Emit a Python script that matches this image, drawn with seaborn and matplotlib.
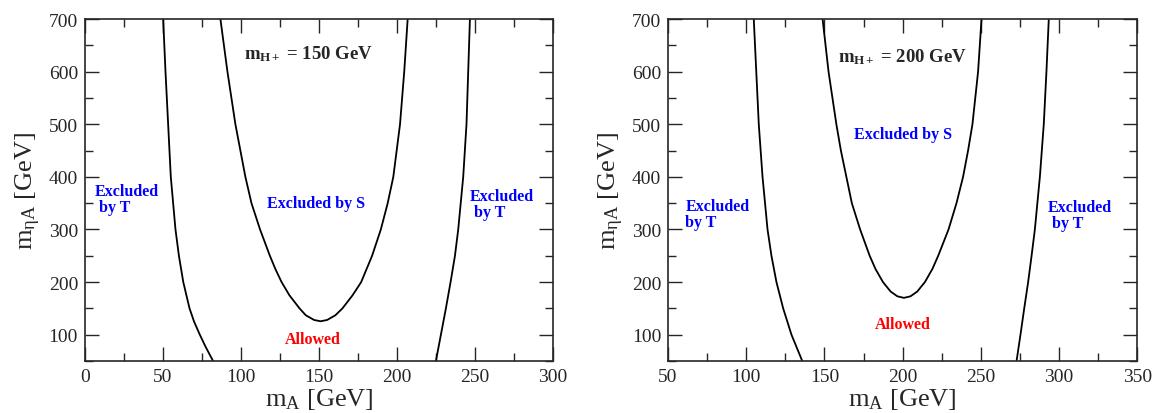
import numpy as np
import pandas as pd
import matplotlib
matplotlib.use("Agg")
import matplotlib.pyplot as plt
import seaborn as sns
from matplotlib.ticker import MultipleLocator

# values (m_A, m_etaA in GeV)
# left panel: m_H+ = 150 GeV
t_left_150_x = [50.1, 51.6, 53.3, 55.0, 58.0, 60.2, 63.0, 67.0, 69.9, 73.6, 77.3, 82.1]
t_left_150_y = [700, 600, 500, 400, 300, 250, 200, 150, 125, 100, 77, 50]
t_right_150_x = [246.7, 245.6, 244.5, 242.4, 239.2, 237.1, 234.3, 231.3, 228.1, 224.9]
t_right_150_y = [700, 600, 500, 400, 300, 250, 200, 150, 100, 50]
s_150_x = [86.8, 91.3, 96.4, 102.8, 106.7, 112.2, 118.5, 122.0, 126.0, 131.0, 137.5,
           141.5, 146.8, 151.0, 155.2, 160.5, 165.0, 171.5, 177.0, 180.5, 184.0,
           189.6, 194.0, 197.6, 201.9, 204.6, 206.8]
s_150_y = [700, 600, 500, 400, 350, 300, 250, 225, 200, 175, 150,
           137, 128, 125.5, 128, 137, 150, 175, 200, 225, 250,
           300, 350, 400, 500, 600, 700]

# right panel: m_H+ = 200 GeV
t_left_200_x = [104.8, 106.4, 108.0, 110.4, 113.6, 116.1, 119.3, 123.6, 128.9, 135.8]
t_left_200_y = [700, 600, 500, 400, 300, 250, 200, 150, 100, 50]
t_right_200_x = [293.4, 291.9, 290.2, 287.7, 284.5, 282.4, 280.2, 277.7, 275.3, 272.8]
t_right_200_y = [700, 600, 500, 400, 300, 250, 200, 150, 100, 50]
s_200_x = [148.8, 152.6, 157.6, 160.5, 164.0, 167.5, 172.8, 178.9, 182.6, 187.4, 192.3,
           196.6, 200.8, 205.0, 209.3, 214.2, 219.0, 222.7, 229.3, 234.4, 238.6,
           241.8, 244.6, 248.2, 250.4]
s_200_y = [700, 600, 500, 450, 400, 350, 300, 250, 225, 200, 182,
           173, 170, 173, 182, 200, 225, 250, 300, 350, 400,
           450, 500, 600, 700]

panels = [
    {"mh": 150, "xlim": (0, 300),
     "curves": [(t_left_150_x, t_left_150_y), (s_150_x, s_150_y), (t_right_150_x, t_right_150_y)],
     "title_xy": (143, 636), "s_xy": (148, 351), "allowed_xy": (146, 91),
     "tl_xy": (6.5, 358), "tr_xy": (246.5, 349)},
    {"mh": 200, "xlim": (50, 350),
     "curves": [(t_left_200_x, t_left_200_y), (s_200_x, s_200_y), (t_right_200_x, t_right_200_y)],
     "title_xy": (200, 630), "s_xy": (200, 481), "allowed_xy": (200, 121),
     "tl_xy": (61, 330), "tr_xy": (293, 328)},
]

sns.set_style("ticks")
plt.rcParams["font.family"] = ["Liberation Serif", "DejaVu Serif"]
plt.rcParams["mathtext.fontset"] = "custom"
plt.rcParams["mathtext.rm"] = "Liberation Serif"
plt.rcParams["mathtext.it"] = "Liberation Serif:italic"
plt.rcParams["mathtext.bf"] = "Liberation Serif:bold"

fig = plt.figure(figsize=(11.53, 4.14), dpi=100)
axes = [fig.add_axes([0.0737, 0.1256, 0.406, 0.826]),
        fig.add_axes([0.5794, 0.1256, 0.407, 0.826])]

for ax, p in zip(axes, panels):
    for cx, cy in p["curves"]:
        df = pd.DataFrame({"mA": cx, "meta": cy})
        sns.lineplot(data=df, x="mA", y="meta", sort=False, estimator=None,
                     color="black", linewidth=1.3, ax=ax)
    for ln in ax.lines:
        ln.set_solid_joinstyle("round")
    ax.set_xlim(*p["xlim"])
    ax.set_ylim(50, 700)
    ax.xaxis.set_major_locator(MultipleLocator(50))
    ax.xaxis.set_minor_locator(MultipleLocator(25))
    ax.yaxis.set_minor_locator(MultipleLocator(50))
    ax.set_yticks([100, 200, 300, 400, 500, 600, 700])
    ax.tick_params(which="both", direction="in", top=True, right=True, labelsize=14, width=1)
    ax.tick_params(which="major", length=10, pad=5)
    ax.tick_params(which="minor", length=6)
    for sp in ax.spines.values():
        sp.set_linewidth(1.2)
    ax.set_xlabel(r"m$_\mathregular{A}$ [GeV]", fontsize=19, labelpad=1)
    ax.set_ylabel(r"m$_{\mathregular{\eta A}}$ [GeV]", fontsize=19, labelpad=4)

    tx, ty = p["title_xy"]
    ax.text(tx, ty, r"m$_{\mathbf{H+}}$ = %d GeV" % p["mh"], fontsize=13.5,
            fontweight="bold", ha="center", va="center")
    sx, sy = p["s_xy"]
    ax.text(sx, sy, "Excluded by S", color="blue", fontsize=11.5,
            fontweight="bold", ha="center", va="center")
    ax_, ay_ = p["allowed_xy"]
    ax.text(ax_, ay_, "Allowed", color="red", fontsize=11.5,
            fontweight="bold", ha="center", va="center")
    lx, ly = p["tl_xy"]
    left_txt = "Excluded\n by T" if p["mh"] == 150 else "Excluded\nby T"
    ax.text(lx, ly, left_txt, color="blue", fontsize=11.5, fontweight="bold",
            ha="left", va="center", linespacing=1.0)
    rx, ry = p["tr_xy"]
    ax.text(rx, ry, "Excluded\n by T", color="blue", fontsize=11.5,
            fontweight="bold", ha="left", va="center", linespacing=1.0)

fig.savefig("out.png", dpi=100)
